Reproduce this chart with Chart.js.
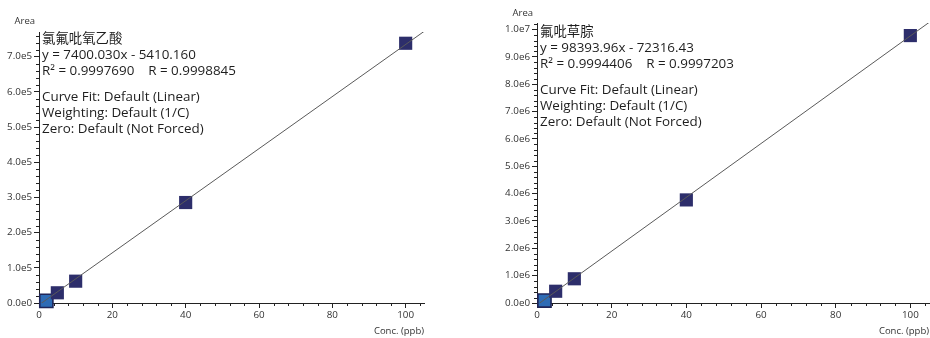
<!DOCTYPE html>
<html>
<head>
<meta charset="utf-8">
<script src="https://cdn.jsdelivr.net/npm/chart.js@4.4.1/dist/chart.umd.min.js"></script>
<style>
  html, body { margin: 0; background: #fff; }
  .wrap { display: flex; width: 930px; height: 338px; }
  canvas { display: block; }
</style>
</head>
<body>
<div class="wrap">
  <canvas id="left-chart" width="465" height="338"></canvas>
  <canvas id="right-chart" width="465" height="338"></canvas>
</div>
<script>
(() => {
  'use strict';
  const FONT = '"Open Sans", "Noto Sans", "Noto Sans CJK SC", sans-serif';

  // calibration levels (ppb) and measured areas
  const concLevels = [2, 5, 10, 40, 100];
  const areaLeft = [6000, 29000, 62000, 285500, 738000];
  const areaRight = [90000, 430000, 886000, 3770000, 9780000];

  // fitted line end points, read from the printed equations
  const fitX = [0, 105];
  const fitLeft = [-5410, 771593];
  const fitRight = [-72316, 10259050];

  const xTicks = [0, 20, 40, 60, 80, 100];
  const yTicksLeft = [0, 1e5, 2e5, 3e5, 4e5, 5e5, 6e5, 7e5];
  const yTicksRight = [0, 1e6, 2e6, 3e6, 4e6, 5e6, 6e6, 7e6, 8e6, 9e6, 1e7];

  const headLeft = ['氯氟吡氧乙酸', 'y = 7400.030x - 5410.160', 'R² = 0.9997690    R = 0.9998845'];
  const headRight = ['氟吡草腙', 'y = 98393.96x - 72316.43', 'R² = 0.9994406    R = 0.9997203'];
  const fitNotes = ['Curve Fit: Default (Linear)', 'Weighting: Default (1/C)', 'Zero: Default (Not Forced)'];

  const expLabel = v => v.toExponential(1).replace('e+', 'e');

  const decorPlugin = {
    id: 'decor',
    afterDraw(chart) {
      const o = chart.options.plugins.decor;
      const { ctx, chartArea: a, scales: { x, y } } = chart;
      ctx.save();
      // minor ticks
      ctx.strokeStyle = '#222'; ctx.lineWidth = 1;
      ctx.beginPath();
      for (let v = o.minorX; v <= x.max + 1e-9; v += o.minorX) {
        if (Math.abs(v % 20) < 1e-9) continue;
        const px = Math.round(x.getPixelForValue(v)) + 0.5;
        ctx.moveTo(px, a.bottom); ctx.lineTo(px, a.bottom + 3);
      }
      for (let v = o.minorY; v <= y.max; v += o.minorY) {
        const r = v % o.majorY;
        if (r < o.minorY / 10 || o.majorY - r < o.minorY / 10) continue;
        const py = Math.round(y.getPixelForValue(v)) + 0.5;
        ctx.moveTo(a.left, py); ctx.lineTo(a.left - 3, py);
      }
      ctx.stroke();
      // axis captions
      ctx.fillStyle = '#333';
      ctx.font = '9.5px ' + FONT;
      ctx.textBaseline = 'middle';
      ctx.textAlign = 'right';
      ctx.fillText('Area', a.left - 4, a.top - o.areaGap);
      ctx.fillText('Conc. (ppb)', a.right, 331);
      // fit report
      ctx.textAlign = 'left';
      ctx.fillStyle = '#1e1e1e';
      ctx.font = '13.4px ' + FONT;
      o.head.forEach((t, i) => ctx.fillText(t, a.left + 3, a.top + o.textTop + i * o.lineGap));
      const start = a.top + o.textTop + 2 * o.lineGap + 26.5;
      fitNotes.forEach((t, i) => ctx.fillText(t, a.left + 3, start + i * o.lineGap));
      ctx.restore();
    }
  };

  function makeChart(id, opts) {
    const n = concLevels.length;
    return new Chart(document.getElementById(id), {
      type: 'scatter',
      data: {
        datasets: [
          { data: fitX.map((v, i) => ({ x: v, y: opts.fit[i] })), showLine: true, borderColor: '#5a5a5a', borderWidth: 1,
            pointRadius: 0, clip: 0, order: 0 },
          { data: concLevels.map((v, i) => ({ x: v, y: opts.area[i] })), pointStyle: 'rect', pointRadius: 9.3,
            backgroundColor: Array.from({ length: n }, (_, i) => i === 0 ? '#2d6bb5' : '#2d2e6b'),
            borderColor: Array.from({ length: n }, (_, i) => i === 0 ? '#1f2558' : '#2d2e6b'),
            borderWidth: Array.from({ length: n }, (_, i) => i === 0 ? 1.6 : 0),
            clip: false, order: 1 }
        ]
      },
      options: {
        responsive: false, animation: false, devicePixelRatio: 1,
        layout: { autoPadding: false, padding: { top: opts.top, right: opts.right, left: 0, bottom: 0 } },
        plugins: {
          legend: { display: false }, tooltip: { enabled: false },
          decor: { minorX: 4, minorY: opts.minorY, majorY: opts.majorY, head: opts.head, areaGap: opts.areaGap,
            textTop: opts.textTop, lineGap: opts.lineGap }
        },
        scales: {
          x: {
            type: 'linear', min: 0, max: 105,
            afterBuildTicks: s => { s.ticks = xTicks.map(v => ({ value: v })); },
            afterFit: s => { s.height = 35; s.paddingLeft = 0; s.paddingRight = 0; },
            border: { color: '#222', width: 1 },
            grid: { drawOnChartArea: false, tickLength: 5, color: '#222' },
            ticks: { color: '#333', font: { family: FONT, size: 9.8 }, padding: 1, maxRotation: 0, autoSkip: false }
          },
          y: {
            type: 'linear', min: 0, max: opts.yMax,
            afterBuildTicks: s => { s.ticks = opts.yTicks.map(v => ({ value: v })); },
            afterFit: s => { s.width = opts.yWidth; s.paddingTop = 0; s.paddingBottom = 0; },
            border: { color: '#222', width: 1 },
            grid: { drawOnChartArea: false, tickLength: 5, color: '#222' },
            ticks: { color: '#333', font: { family: FONT, size: 9.8 }, padding: 2, autoSkip: false, callback: v => expLabel(v) }
          }
        }
      },
      plugins: [decorPlugin]
    });
  }

  makeChart('left-chart', { area: areaLeft, fit: fitLeft, yTicks: yTicksLeft, yMax: 7.7e5, minorY: 2e4, majorY: 1e5,
    head: headLeft, top: 32, right: 41, yWidth: 39, areaGap: 11, textTop: 7.5, lineGap: 15.7 });
  makeChart('right-chart', { area: areaRight, fit: fitRight, yTicks: yTicksRight, yMax: 10.24e6, minorY: 2e5, majorY: 1e6,
    head: headRight, top: 23, right: 1, yWidth: 72, areaGap: 10, textTop: 9, lineGap: 16 });
})();
</script>
</body>
</html>
